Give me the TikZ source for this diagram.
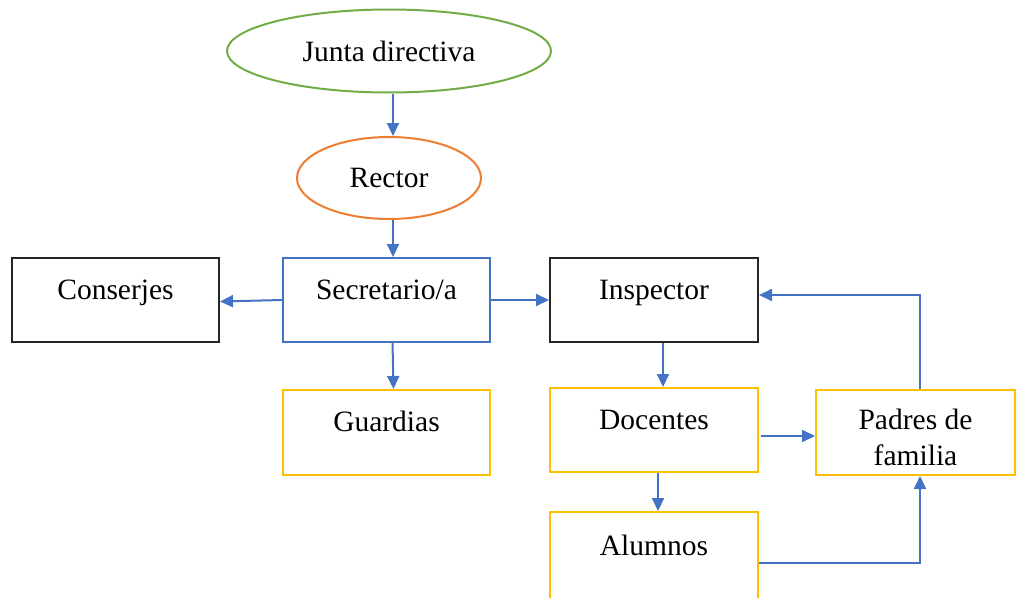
\documentclass[tikz,border=0pt]{standalone}
\usepackage{fontspec}
\setmainfont{Liberation Serif}
\usetikzlibrary{shapes.geometric,arrows.meta}
\definecolor{lblue}{HTML}{4472C4}
\definecolor{lgreen}{HTML}{70AD47}
\definecolor{lorange}{HTML}{ED7D31}
\definecolor{lyellow}{HTML}{FFC000}
\definecolor{dgray}{HTML}{262626}
\begin{document}
\begin{tikzpicture}[x=1pt,y=-1pt,
  every node/.style={font=\fontsize{29.5}{36}\selectfont, text=black},
  oval/.style={ellipse, draw=#1, line width=2pt, inner sep=0pt},
  box/.style={draw=#1, line width=2pt, rectangle, inner xsep=0pt, inner ysep=0pt, text height=41pt},
  conn/.style={draw=lblue, line width=2pt, -{Triangle[length=13pt,width=12pt]}}
]
\useasboundingbox (0,0) rectangle (1016,597);
\node[oval=lgreen, minimum width=324pt, minimum height=83pt] (junta) at (389,51) {Junta directiva};
\node[oval=lorange, minimum width=184pt, minimum height=82pt] (rector) at (389,178) {Rector};
\node[box=dgray, minimum width=207pt, minimum height=84pt, text depth=43pt] (cons) at (115.5,300) {Conserjes};
\node[box=lblue, minimum width=207pt, minimum height=84pt, text depth=43pt] (sec) at (386.5,300) {Secretario/a};
\node[box=dgray, minimum width=208pt, minimum height=84pt, text depth=43pt] (ins) at (654,300) {Inspector};
\node[box=lyellow, minimum width=207pt, minimum height=85pt, text depth=44pt] (gua) at (386.5,432.5) {Guardias};
\node[box=lyellow, minimum width=208pt, minimum height=84pt, text depth=43pt] (doc) at (654,430) {Docentes};
\node[box=lyellow, minimum width=208pt, minimum height=88pt, text depth=45pt, text height=43pt] (alu) at (654,556) {Alumnos};
\node[draw=lyellow, line width=2pt, rectangle, minimum width=199pt, minimum height=85pt, inner sep=0pt] (pad) at (915.5,432.5)
  {\raisebox{-8pt}[\height][\depth]{\begin{tabular}{@{}c@{}}Padres de\\familia\end{tabular}}};
\draw[conn] ([xshift=4pt]junta.south) -- ([xshift=4pt]rector.north);
\draw[conn] ([xshift=4pt]rector.south) -- ([xshift=6.5pt]sec.north);
\draw[conn] ([yshift=0pt]sec.west) -- ([yshift=-1.5pt]cons.east);
\draw[conn] (sec.east) -- (ins.west);
\draw[conn] ([xshift=6pt]sec.south) -- ([xshift=7pt]gua.north);
\draw[conn] ([xshift=9pt]ins.south) -- ([xshift=9pt]doc.north);
\draw[conn] ([xshift=2pt,yshift=-6pt]doc.east) -- ([yshift=-6pt]doc.east -| pad.west);
\draw[conn] ([xshift=4pt]doc.south) -- ([xshift=4pt]alu.north);
\draw[conn] ([yshift=-7pt]alu.east) -| ([xshift=4.5pt]pad.south);
\draw[conn] ([xshift=4.5pt]pad.north) |- ([yshift=5pt]ins.east);
\end{tikzpicture}
\end{document}
